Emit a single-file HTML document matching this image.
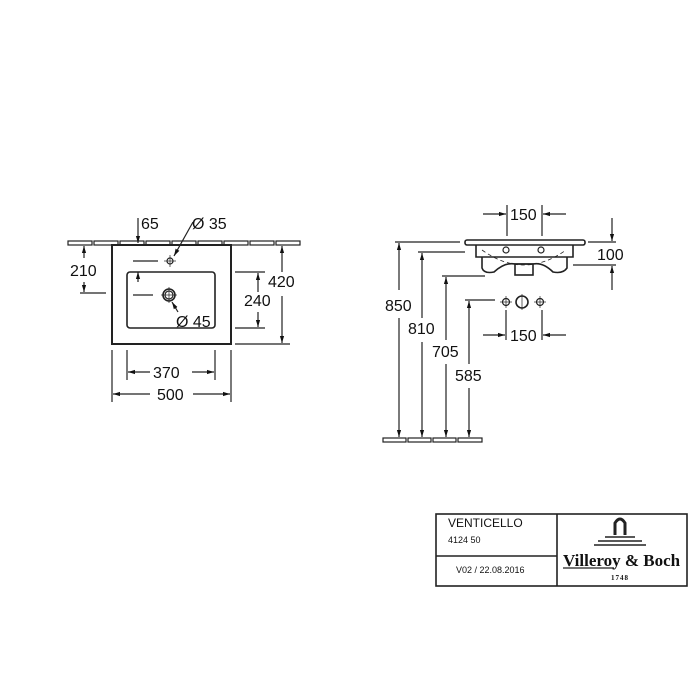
<!DOCTYPE html>
<html><head><meta charset="utf-8"><style>
html,body{margin:0;padding:0;background:#fff;width:700px;height:700px;overflow:hidden}
svg{display:block}
text{font-family:"Liberation Sans",sans-serif;fill:#111}
</style></head><body>
<svg width="700" height="700" viewBox="0 0 700 700" xmlns="http://www.w3.org/2000/svg">
<defs>
<marker id="a" viewBox="0 0 10 10" refX="10" refY="5" markerWidth="6" markerHeight="6" orient="auto-start-reverse"><path d="M0,2 L10,5 L0,8z" fill="#111"/></marker>
</defs>
<g stroke="#222" fill="none" stroke-width="1.2">
<g>
<rect x="68" y="241" width="24" height="4"/><rect x="94" y="241" width="24" height="4"/><rect x="120" y="241" width="24" height="4"/><rect x="146" y="241" width="24" height="4"/><rect x="172" y="241" width="24" height="4"/><rect x="198" y="241" width="24" height="4"/><rect x="224" y="241" width="24" height="4"/><rect x="250" y="241" width="24" height="4"/><rect x="276" y="241" width="24" height="4"/>
</g>
<rect x="112" y="245" width="119" height="99" stroke-width="2" fill="#fff"/>
<rect x="127" y="272" width="88" height="56" rx="3" stroke-width="1.6"/>
<circle cx="170" cy="261" r="3"/>
<circle cx="169" cy="295" r="6" stroke-width="1.6"/><circle cx="169" cy="295" r="4"/>
<line x1="170" y1="255" x2="170" y2="267" stroke-width=".7"/><line x1="164" y1="261" x2="176" y2="261" stroke-width=".7"/>
<line x1="169" y1="287" x2="169" y2="303" stroke-width=".7"/><line x1="161" y1="295" x2="177" y2="295" stroke-width=".7"/>
<line x1="133" y1="261" x2="158" y2="261"/><line x1="133" y1="295" x2="153" y2="295"/>
<line x1="138" y1="218" x2="138" y2="243" marker-end="url(#a)"/>
<line x1="138" y1="282" x2="138" y2="272" marker-end="url(#a)"/>
<line x1="193" y1="222" x2="174" y2="256" marker-end="url(#a)"/>
<line x1="178" y1="312" x2="172" y2="302" marker-end="url(#a)"/>
<line x1="80" y1="293" x2="106" y2="293"/>
<line x1="84" y1="258" x2="84" y2="246" marker-end="url(#a)"/>
<line x1="84" y1="282" x2="84" y2="292" marker-end="url(#a)"/>
<line x1="235" y1="272" x2="265" y2="272"/><line x1="235" y1="328" x2="265" y2="328"/>
<line x1="258" y1="292" x2="258" y2="273" marker-end="url(#a)"/>
<line x1="258" y1="312" x2="258" y2="327" marker-end="url(#a)"/>
<line x1="235" y1="344" x2="290" y2="344"/>
<line x1="282" y1="272" x2="282" y2="246" marker-end="url(#a)"/>
<line x1="282" y1="296" x2="282" y2="343" marker-end="url(#a)"/>
<line x1="127" y1="350" x2="127" y2="380"/><line x1="215" y1="350" x2="215" y2="380"/>
<line x1="150" y1="372" x2="128" y2="372" marker-end="url(#a)"/>
<line x1="192" y1="372" x2="214" y2="372" marker-end="url(#a)"/>
<line x1="112" y1="350" x2="112" y2="402"/><line x1="231" y1="350" x2="231" y2="402"/>
<line x1="150" y1="394" x2="113" y2="394" marker-end="url(#a)"/>
<line x1="193" y1="394" x2="230" y2="394" marker-end="url(#a)"/>

<rect x="465" y="240" width="120" height="5" rx="2" stroke-width="1.6"/>
<path d="M476,245 L476,257 L573,257 L573,245" stroke-width="1.6"/>
<path d="M482,257 L482,268 Q484,274 494,272 Q505,262 515,264 L533,264 Q543,262 553,272 Q563,274 567,268 L567,257" stroke-width="1.6"/>
<rect x="515" y="264" width="18" height="11" stroke-width="1.6"/>
<path d="M482,250 Q524,280 566,250" stroke-dasharray="4,3" stroke-width=".8"/>
<circle cx="506" cy="250" r="3"/><circle cx="541" cy="250" r="3"/>
<circle cx="506" cy="302" r="3.5"/><circle cx="522" cy="302" r="6" stroke-width="1.6"/><circle cx="540" cy="302" r="3.5"/>
<line x1="506" y1="296" x2="506" y2="308" stroke-width=".7"/><line x1="500" y1="302" x2="512" y2="302" stroke-width=".7"/>
<line x1="540" y1="296" x2="540" y2="308" stroke-width=".7"/><line x1="534" y1="302" x2="546" y2="302" stroke-width=".7"/>
<line x1="522" y1="294" x2="522" y2="310" stroke-width=".7"/>
<line x1="507" y1="205" x2="507" y2="236"/><line x1="542" y1="205" x2="542" y2="236"/>
<line x1="483" y1="214" x2="506" y2="214" marker-end="url(#a)"/>
<line x1="566" y1="214" x2="543" y2="214" marker-end="url(#a)"/>
<line x1="506" y1="310" x2="506" y2="340"/><line x1="542" y1="310" x2="542" y2="340"/>
<line x1="483" y1="335" x2="505" y2="335" marker-end="url(#a)"/>
<line x1="566" y1="335" x2="543" y2="335" marker-end="url(#a)"/>
<line x1="588" y1="242" x2="616" y2="242"/><line x1="573" y1="265" x2="616" y2="265"/>
<line x1="612" y1="218" x2="612" y2="241" marker-end="url(#a)"/>
<line x1="612" y1="290" x2="612" y2="266" marker-end="url(#a)"/>
<line x1="395" y1="242" x2="460" y2="242"/>
<line x1="418" y1="252" x2="465" y2="252"/>
<line x1="442" y1="276" x2="485" y2="276"/>
<line x1="465" y1="300" x2="495" y2="300"/>
<line x1="399" y1="290" x2="399" y2="243" marker-end="url(#a)"/><line x1="399" y1="318" x2="399" y2="437" marker-end="url(#a)"/>
<line x1="422" y1="318" x2="422" y2="253" marker-end="url(#a)"/><line x1="422" y1="342" x2="422" y2="437" marker-end="url(#a)"/>
<line x1="446" y1="340" x2="446" y2="277" marker-end="url(#a)"/><line x1="446" y1="364" x2="446" y2="437" marker-end="url(#a)"/>
<line x1="469" y1="364" x2="469" y2="301" marker-end="url(#a)"/><line x1="469" y1="388" x2="469" y2="437" marker-end="url(#a)"/>
<rect x="383" y="438" width="23" height="4"/><rect x="408" y="438" width="23" height="4"/><rect x="433" y="438" width="23" height="4"/><rect x="458" y="438" width="24" height="4"/>

<rect x="436" y="514" width="251" height="72" stroke-width="1.6"/>
<line x1="557" y1="514" x2="557" y2="586" stroke-width="1.6"/>
<line x1="436" y1="556" x2="557" y2="556" stroke-width="1.6"/>
<path d="M615,535 L615,523 Q620,515 625,523 L625,535" stroke-width="3"/>
<line x1="605" y1="537" x2="635" y2="537" stroke-width="1.5"/>
<line x1="598" y1="541" x2="642" y2="541" stroke-width="1.5"/>
<line x1="594" y1="545" x2="646" y2="545" stroke-width="1.5"/>
<line x1="563" y1="568" x2="614" y2="568" stroke-width="1.2"/>
</g>
<g font-size="16">
<text x="141" y="229">65</text>
<text x="192" y="229">Ø 35</text>
<text x="176" y="327">Ø 45</text>
<text x="70" y="276">210</text>
<text x="244" y="306">240</text>
<text x="268" y="287">420</text>
<text x="153" y="378">370</text>
<text x="157" y="400">500</text>
<text x="510" y="220">150</text>
<text x="510" y="341">150</text>
<text x="597" y="260">100</text>
<text x="385" y="311">850</text>
<text x="408" y="334">810</text>
<text x="432" y="357">705</text>
<text x="455" y="381">585</text>
</g>
<text x="448" y="527" font-size="12">VENTICELLO</text>
<text x="448" y="543" font-size="9">4124 50</text>
<text x="456" y="573" font-size="9">V02 / 22.08.2016</text>
<text x="563" y="566" font-size="17" font-weight="bold" style="font-family:'Liberation Serif',serif">Villeroy &amp; Boch</text>
<text x="620" y="580" font-size="7" font-weight="bold" text-anchor="middle" style="font-family:'Liberation Serif',serif;letter-spacing:1px">1748</text>
</svg>
</body></html>
